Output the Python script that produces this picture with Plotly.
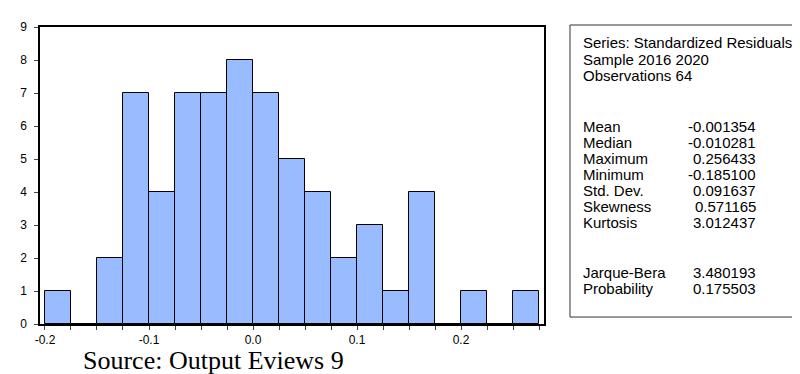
import plotly.graph_objects as go

# ---- data ----
bin_start = [-0.200, -0.175, -0.150, -0.125, -0.100, -0.075, -0.050, -0.025, 0.000,
             0.025, 0.050, 0.075, 0.100, 0.125, 0.150, 0.175, 0.200, 0.225, 0.250]
counts = [1, 0, 2, 7, 4, 7, 7, 8, 7, 5, 4, 2, 3, 1, 4, 0, 1, 0, 1]
bin_width = 0.025
x_ticks = [-0.2, -0.1, 0.0, 0.1, 0.2]
x_tick_labels = ["-0.2", "-0.1", "0.0", "0.1", "0.2"]
header_lines = ["Series: Standardized Residuals", "Sample 2016 2020", "Observations 64"]
stat_names = ["Mean", "Median", "Maximum", "Minimum", "Std. Dev.", "Skewness", "Kurtosis"]
stat_values = ["-0.001354", "-0.010281", "0.256433", "-0.185100", "0.091637", "0.571165", "3.012437"]
test_names = ["Jarque-Bera", "Probability"]
test_values = ["3.480193", "0.175503"]
source_text = "Source: Output Eviews 9"

W, H = 800, 374
L, R, T, B = 32, 536, 17, 316


def px(x):
    return (x - L) / (R - L)


def py(y):
    return (B - y) / (B - T)


centers = [s + bin_width / 2 for s in bin_start]

fig = go.Figure()
fig.add_trace(go.Bar(
    x=centers, y=counts, width=bin_width,
    marker=dict(color="#99BBFF", line=dict(color="black", width=1)),
    hoverinfo="skip",
))

sans = "Liberation Sans, Arial, sans-serif"
fig.update_layout(
    width=W, height=H,
    margin=dict(l=L, r=W - R, t=T, b=H - B, pad=0),
    paper_bgcolor="white", plot_bgcolor="white",
    showlegend=False, bargap=0,
    font=dict(family=sans, size=12, color="black"),
    xaxis=dict(
        range=[-0.2048, 0.2798], tickvals=x_ticks, ticktext=x_tick_labels,
        ticks="outside", ticklen=4, tickcolor="#444", tickwidth=1,
        minor=dict(dtick=0.025, tick0=0, ticks="outside", ticklen=4, tickcolor="#444", showgrid=False),
        showline=True, linecolor="black", linewidth=1.5, mirror=True,
        showgrid=False, zeroline=False, fixedrange=True,
        tickfont=dict(family=sans, size=12),
    ),
    yaxis=dict(
        range=[0, 9], dtick=1, ticks="outside", ticklen=4, tickcolor="#444",
        showline=True, linecolor="black", linewidth=1.5, mirror=True,
        showgrid=False, zeroline=False, fixedrange=True,
        ticklabelstandoff=5,
        tickfont=dict(family=sans, size=12),
    ),
)

# stats box
fig.add_shape(type="rect", xref="paper", yref="paper",
              x0=px(562), x1=px(815), y0=py(309), y1=py(15),
              line=dict(color="#333", width=1), fillcolor="rgba(0,0,0,0)")

fs = 15
x_left = px(573)
x_val = px(750)
y0 = 33
step = 16.3


def label(x, y, text, anchor):
    fig.add_annotation(x=x, y=py(y), xref="paper", yref="paper", text=text,
                       showarrow=False, xanchor=anchor, yanchor="middle",
                       font=dict(family=sans, size=fs, color="black"))


for i, t in enumerate(header_lines):
    label(x_left, y0 + i * step, t, "left")

y_stats = 117
for i, (n, v) in enumerate(zip(stat_names, stat_values)):
    label(x_left, y_stats + i * 16.1, n, "left")
    label(x_val, y_stats + i * 16.1, v, "right")

y_tests = 264
for i, (n, v) in enumerate(zip(test_names, test_values)):
    label(x_left, y_tests + i * 16.1, n, "left")
    label(x_val, y_tests + i * 16.1, v, "right")

fig.add_annotation(x=px(73), y=py(353), xref="paper", yref="paper", text=source_text,
                   showarrow=False, xanchor="left", yanchor="middle",
                   font=dict(family="Liberation Serif, Times New Roman, serif", size=26, color="black"))

fig.write_html("out.html")
